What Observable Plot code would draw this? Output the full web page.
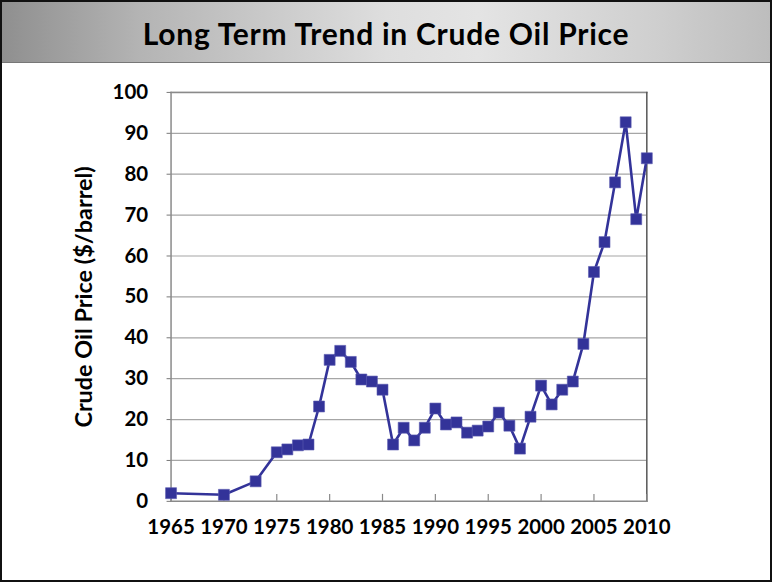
<!DOCTYPE html>
<html>
<head>
<meta charset="utf-8">
<script src="https://cdn.jsdelivr.net/npm/d3@7"></script>
<script src="https://cdn.jsdelivr.net/npm/@observablehq/plot@0.6"></script>
<style>
  html, body { margin: 0; padding: 0; background: #fff; }
  #slide { position: relative; width: 772px; height: 582px; box-sizing: border-box;
    border: 2px solid #111; overflow: hidden; background: #fff; font-family: Lato, "Open Sans", sans-serif; }
  #titlebar { position: absolute; left: 0; top: 0; width: 100%; height: 60px;
    background: linear-gradient(90deg, #8f8f8f 0%, #b4b4b4 18%, #dedede 50%, #e4e4e4 62%, #cfcfcf 85%, #bdbdbd 100%);
    border-bottom: 1px solid #777; }
  #title { position: absolute; left: 0; top: 0; width: 100%; height: 60px; line-height: 63px;
    text-align: center; font-weight: 700; font-size: 30px; color: #000; letter-spacing: 0.75px; }
  #chart { position: absolute; left: -2px; top: 60px; }
  #chart text.ytitle, #chart g.ytitle text { font-weight: 700; }
</style>
</head>
<body>
<div id="slide">
  <div id="titlebar"></div>
  <div id="title">Long Term Trend in Crude Oil Price</div>
  <div id="chart"></div>
</div>
<script>
const years  = [1965, 1970, 1973, 1975, 1976, 1977, 1978, 1979, 1980, 1981, 1982, 1983, 1984, 1985, 1986, 1987, 1988, 1989, 1990, 1991, 1992, 1993, 1994, 1995, 1996, 1997, 1998, 1999, 2000, 2001, 2002, 2003, 2004, 2005, 2006, 2007, 2008, 2009, 2010];
const prices = [2.0, 1.6, 4.9, 12.0, 12.7, 13.7, 13.9, 23.2, 34.6, 36.8, 34.1, 29.8, 29.3, 27.3, 13.9, 18.0, 14.9, 18.0, 22.7, 18.8, 19.3, 16.8, 17.3, 18.3, 21.7, 18.5, 12.9, 20.7, 28.3, 23.7, 27.3, 29.3, 38.5, 56.1, 63.4, 78.0, 92.7, 69.0, 83.9];
const xTicks = [1965, 1970, 1975, 1980, 1985, 1990, 1995, 2000, 2005, 2010];
const yTicks = [0, 10, 20, 30, 40, 50, 60, 70, 80, 90, 100];
const yTitle = "Crude Oil Price ($/barrel)";

const data = years.map((y, i) => ({year: y, price: prices[i]}));
const blue = "#333399";

const chart = Plot.plot({
  width: 772,
  height: 500,
  marginLeft: 171,
  marginRight: 124,
  marginTop: 30,
  marginBottom: 60,
  style: { fontFamily: "Lato, 'Open Sans', sans-serif", background: "transparent" },
  x: { domain: [1965, 2010] },
  y: { domain: [0, 100] },
  marks: [
    Plot.gridY(yTicks.filter(d => d > 0), { stroke: "#a6a6a6", strokeOpacity: 1, strokeWidth: 1.2 }),
    Plot.frame({ anchor: "top", stroke: "#8a8a8a", strokeWidth: 1.5 }),
    Plot.frame({ anchor: "right", stroke: "#555", strokeWidth: 1.5 }),
    Plot.frame({ anchor: "left", stroke: "#8a8a8a", strokeWidth: 1.5 }),
    Plot.frame({ anchor: "bottom", stroke: "#8a8a8a", strokeWidth: 1.5 }),
    Plot.axisX({ ticks: xTicks, tickSize: -7, text: null, stroke: "#8a8a8a", strokeWidth: 1.2, label: null }),
    Plot.axisX({ ticks: xTicks, tickSize: 0, tickPadding: 18, tickFormat: d => String(d),
      fontSize: 20.5, fontWeight: "bold", fill: "#000", label: null }),
    Plot.axisY({ ticks: yTicks, tickSize: 4, text: null, stroke: "#777", label: null }),
    Plot.axisY({ ticks: yTicks, tickSize: 0, tickPadding: 23, fontSize: 20.5, fontWeight: "bold", fill: "#000", label: null }),
    Plot.text([yTitle], { frameAnchor: "left", textAnchor: "middle", rotate: -90, dx: -87, fontSize: 23.5,
      fontWeight: 700, fill: "#000", letterSpacing: "1.8px", className: "ytitle" }),
    Plot.line(data, { x: "year", y: "price", stroke: blue, strokeWidth: 2.6 }),
    Plot.dot(data, { x: "year", y: "price", symbol: "square", r: 6.2, fill: blue, stroke: "#5a5ab0", strokeWidth: 0.6 })
  ]
});
document.getElementById("chart").appendChild(chart);
</script>
</body>
</html>
